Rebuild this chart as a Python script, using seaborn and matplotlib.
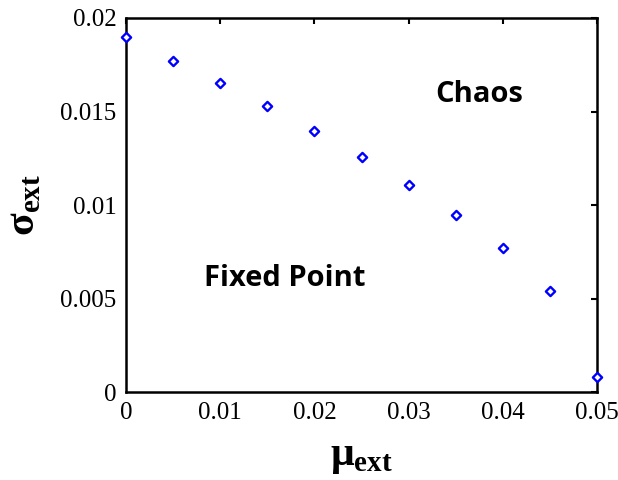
import matplotlib
matplotlib.use("Agg")
import matplotlib.pyplot as plt
import seaborn as sns
import pandas as pd

mu_ext = [0.0, 0.005, 0.01, 0.015, 0.02, 0.025, 0.03, 0.035, 0.04, 0.045, 0.05]
sigma_ext = [0.0190, 0.0177, 0.01652, 0.01529, 0.01396, 0.01257, 0.01107, 0.00947, 0.0077, 0.0054, 0.0008]
x_ticks = [0, 0.01, 0.02, 0.03, 0.04, 0.05]
x_tick_labels = ["0", "0.01", "0.02", "0.03", "0.04", "0.05"]
y_ticks = [0, 0.005, 0.01, 0.015, 0.02]
y_tick_labels = ["0", "0.005", "0.01", "0.015", "0.02"]

sns.set_style("white")
plt.rcParams["mathtext.fontset"] = "custom"
plt.rcParams["mathtext.bf"] = "Liberation Serif:bold"
plt.rcParams["mathtext.rm"] = "Liberation Serif"
plt.rcParams["text.color"] = "black"
plt.rcParams["axes.labelcolor"] = "black"
plt.rcParams["xtick.color"] = "black"
plt.rcParams["ytick.color"] = "black"

df = pd.DataFrame({"mu": mu_ext, "sigma": sigma_ext})

fig = plt.figure(figsize=(6.18, 4.8), dpi=100)
ax = fig.add_axes([0.204, 0.183, 0.762, 0.7795])
sns.scatterplot(data=df, x="mu", y="sigma", ax=ax, marker="D", s=22,
                facecolor="white", edgecolor="#0000FF", linewidth=1.7, clip_on=False, zorder=5)
ax.set_xlim(0, 0.05)
ax.set_ylim(0, 0.02)
ax.set_xticks(x_ticks)
ax.set_xticklabels(x_tick_labels, family="Liberation Serif", fontsize=18)
ax.set_yticks(y_ticks)
ax.set_yticklabels(y_tick_labels, family="Liberation Serif", fontsize=18)
ax.tick_params(axis="both", which="major", direction="in", length=4, width=1.5, colors="black")
ax.tick_params(axis="x", pad=7)
ax.tick_params(axis="y", pad=7)
ax.tick_params(top=True, right=True)
for s in ax.spines.values():
    s.set_linewidth(1.8)
    s.set_color("black")
ax.set_xlabel("$\\mathbf{μ}_{\\mathbf{ext}}$", fontsize=30, labelpad=7)
ax.set_ylabel("$\\mathbf{σ}_{\\mathbf{ext}}$", fontsize=30, labelpad=12)
ax.text(0.0375, 0.0159, "Chaos", fontsize=21, fontweight="bold", family="Open Sans", ha="center", va="center", color="black")
ax.text(0.0168, 0.0061, "Fixed Point", fontsize=21, fontweight="bold", family="Open Sans", ha="center", va="center", color="black")
fig.savefig("out.png", dpi=100)
